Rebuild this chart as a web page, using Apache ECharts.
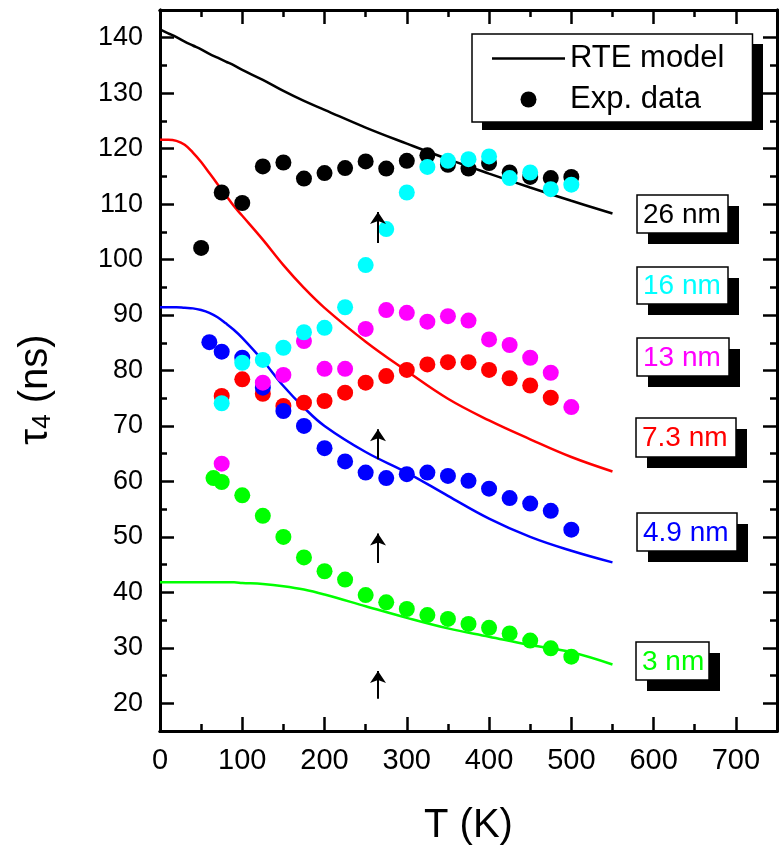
<!DOCTYPE html>
<html><head><meta charset="utf-8">
<script src="https://cdn.jsdelivr.net/npm/echarts@6/dist/echarts.min.js"></script>
<style>html,body{margin:0;padding:0;background:#fff}#c{width:782px;height:851px}</style>
</head><body><div id="c"></div>
<script>
const FONT = '"Liberation Sans", Arial, Helvetica, sans-serif';

// tick values
const xTicksMajor = [0, 100, 200, 300, 400, 500, 600, 700];
const xTicksMinor = [50, 150, 250, 350, 450, 550, 650];
const yTicksMajor = [20, 30, 40, 50, 60, 70, 80, 90, 100, 110, 120, 130, 140];
const yTicksMinor = [25, 35, 45, 55, 65, 75, 85, 95, 105, 115, 125, 135];

// RTE model curves
const modelT    = [0, 10, 20, 30, 40, 50, 60, 70, 80, 90, 100, 125, 150, 175, 200, 250, 300, 350, 400, 450, 500, 550];
const model26nm = [141.5, 140.8, 140.1, 139.3, 138.6, 137.9, 137.1, 136.4, 135.7, 135.0, 134.2, 132.4, 130.4, 128.6, 127.0, 123.8, 120.9, 118.1, 115.5, 113.0, 110.6, 108.3];
const model73nm = [121.6, 121.6, 121.4, 120.7, 119.3, 117.6, 115.6, 113.6, 111.6, 109.6, 107.9, 103.6, 99.0, 94.9, 91.3, 85.2, 79.9, 74.9, 71.0, 67.6, 64.4, 61.8];
const model49nm = [91.4, 91.4, 91.4, 91.3, 91.2, 90.9, 90.4, 89.6, 88.5, 87.3, 85.9, 81.8, 77.2, 73.3, 70.0, 65.3, 61.6, 57.4, 53.3, 50.0, 47.5, 45.4];
const model3nm  = [41.8, 41.8, 41.8, 41.8, 41.8, 41.8, 41.8, 41.8, 41.8, 41.8, 41.7, 41.5, 41.1, 40.5, 39.6, 37.5, 35.4, 33.5, 32.0, 30.5, 29.2, 27.0];

// Experimental data
const T26 = [50, 75, 100, 125, 150, 175, 200, 225, 250, 275, 300, 325, 350, 375, 400, 425, 450, 475, 500];
const tau26 = [102.1, 112.1, 110.2, 116.8, 117.5, 114.6, 115.6, 116.5, 117.7, 116.4, 117.8, 118.8, 117.1, 116.4, 117.4, 115.7, 114.9, 114.7, 114.9];
const T16 = [75, 100, 125, 150, 175, 200, 225, 250, 275, 300, 325, 350, 375, 400, 425, 450, 475, 500];
const tau16 = [74.1, 81.4, 81.9, 84.1, 86.9, 87.7, 91.4, 99.0, 105.5, 112.1, 116.7, 117.8, 118.1, 118.6, 114.7, 115.7, 112.7, 113.5];
const T13 = [75, 125, 150, 175, 200, 225, 250, 275, 300, 325, 350, 375, 400, 425, 450, 475, 500];
const tau13 = [63.2, 77.8, 79.2, 85.3, 80.3, 80.3, 87.5, 90.9, 90.4, 88.8, 89.8, 89.0, 85.6, 84.6, 82.3, 79.6, 73.4];
const T73 = [75, 100, 125, 150, 175, 200, 225, 250, 275, 300, 325, 350, 375, 400, 425, 450, 475];
const tau73 = [75.4, 78.4, 75.8, 73.6, 74.2, 74.5, 76.0, 77.8, 79.0, 80.1, 81.1, 81.5, 81.5, 80.1, 78.6, 77.3, 75.1];
const T49 = [60, 75, 100, 125, 150, 175, 200, 225, 250, 275, 300, 325, 350, 375, 400, 425, 450, 475, 500];
const tau49 = [85.1, 83.4, 82.3, 76.9, 72.7, 70.0, 66.0, 63.6, 61.6, 60.6, 61.3, 61.6, 61.0, 60.1, 58.7, 57.0, 56.0, 54.7, 51.3];
const T3 = [65, 75, 100, 125, 150, 175, 200, 225, 250, 275, 300, 325, 350, 375, 400, 425, 450, 475, 500];
const tau3 = [60.6, 59.9, 57.5, 53.8, 50.0, 46.3, 43.8, 42.3, 39.5, 38.2, 37.0, 35.9, 35.2, 34.3, 33.6, 32.6, 31.3, 29.9, 28.4];

// arrows (T, from, to)
const arrowT = 265;
const arrowFrom = [103.0, 64.0, 45.3, 20.8];
const arrowTo   = [108.6, 69.4, 50.6, 25.8];

// size labels
const sizeLabels = ['26 nm', '16 nm', '13 nm', '7.3 nm', '4.9 nm', '3 nm'];
const sizeColors = ['#000000', '#00FFFF', '#FF00FF', '#FF0000', '#0000FF', '#00FF00'];

const zip = (a, b) => a.map((v, i) => [v, b[i]]);

const chart = echarts.init(document.getElementById('c'), null, {renderer: 'canvas'});

function xAxisDef(position, ticks, len, showLabel, withName) {
  const ax = {
    type: 'value', min: 0, max: 750, position: position,
    axisLine: {show: true, onZero: false, lineStyle: {color: '#000', width: 3}},
    axisTick: {show: true, inside: true, length: len, customValues: ticks, lineStyle: {color: '#000', width: 2.5}},
    axisLabel: {show: showLabel, customValues: ticks, fontSize: 29, color: '#000', fontFamily: FONT, margin: 15},
    splitLine: {show: false}
  };
  if (withName) {
    ax.name = 'T (K)';
    ax.nameLocation = 'middle';
    ax.nameGap = 75;
    ax.nameTextStyle = {fontSize: 40, color: '#000', fontFamily: FONT};
  }
  return ax;
}
function yAxisDef(position, ticks, len, showLabel, withName) {
  const ax = {
    type: 'value', min: 15, max: 145, position: position,
    axisLine: {show: true, onZero: false, lineStyle: {color: '#000', width: 3}},
    axisTick: {show: true, inside: true, length: len, customValues: ticks, lineStyle: {color: '#000', width: 2.5}},
    axisLabel: {show: showLabel, customValues: ticks, fontSize: 27, color: '#000', fontFamily: FONT, margin: 17},
    splitLine: {show: false}
  };
  if (withName) {
    ax.name = '{a|τ}{b|4}{a| (ns)}';
    ax.nameLocation = 'middle';
    ax.nameRotate = 90;
    ax.nameGap = 104;
    ax.nameTextStyle = {
      fontSize: 40, color: '#000', fontFamily: FONT, padding: [0, 38, 0, 0],
      rich: {
        a: {fontSize: 40, fontFamily: FONT, color: '#000'},
        b: {fontSize: 26, fontFamily: FONT, color: '#000', verticalAlign: 'bottom'}
      }
    };
  }
  return ax;
}

const series = [];
function addModel(name, vals, color) {
  series.push({
    type: 'line', name: name, data: zip(modelT, vals), xAxisIndex: 0, yAxisIndex: 0,
    symbol: 'none', showSymbol: false, smooth: 0.4, silent: true,
    lineStyle: {color: color, width: 2.5}, itemStyle: {color: color}, z: 2
  });
}
addModel('RTE model', model26nm, '#000000');
addModel('RTE 7.3 nm', model73nm, '#FF0000');
addModel('RTE 4.9 nm', model49nm, '#0000FF');
addModel('RTE 3 nm', model3nm, '#00FF00');

function addData(name, T, tau, color) {
  series.push({
    type: 'scatter', name: name, data: zip(T, tau), xAxisIndex: 0, yAxisIndex: 0,
    symbol: 'circle', symbolSize: 16, silent: true,
    itemStyle: {color: color, opacity: 1}, z: 3
  });
}
addData('3 nm', T3, tau3, '#00FF00');
addData('7.3 nm', T73, tau73, '#FF0000');
addData('4.9 nm', T49, tau49, '#0000FF');
addData('13 nm', T13, tau13, '#FF00FF');
addData('Exp. data', T26, tau26, '#000000');
addData('16 nm', T16, tau16, '#00FFFF');

series.push({
  type: 'lines', name: 'arrows', coordinateSystem: 'cartesian2d', xAxisIndex: 0, yAxisIndex: 0,
  symbol: ['none', 'arrow'], symbolSize: 12, silent: true, z: 4,
  lineStyle: {color: '#000', width: 2, opacity: 1},
  data: arrowFrom.map((f, i) => ({coords: [[arrowT, f], [arrowT, arrowTo[i]]]}))
});

// label boxes (layout in pixels)
const boxGeom = [
  [637, 195, 91, 38], [637, 267, 91, 37], [637, 338, 92, 38],
  [636, 418, 100, 39], [637, 513, 100, 38], [636, 642, 73, 38]
];
const graphics = [];
// legend shadow
graphics.push({type: 'rect', shape: {x: 482, y: 44, width: 281, height: 86}, style: {fill: '#000'}, z: 1, silent: true});
sizeLabels.forEach((t, i) => {
  const g = boxGeom[i];
  graphics.push({type: 'rect', shape: {x: g[0] + 11, y: g[1] + 11, width: g[2], height: g[3]}, style: {fill: '#000'}, z: 10, silent: true});
  graphics.push({type: 'rect', shape: {x: g[0], y: g[1], width: g[2], height: g[3]}, style: {fill: '#fff', stroke: '#000', lineWidth: 1.5}, z: 11, silent: true});
  graphics.push({type: 'text', x: g[0] + 6, y: g[1] + g[3] / 2 + 1, style: {text: t, fill: sizeColors[i], fontSize: 28, fontFamily: FONT, align: 'left', verticalAlign: 'middle'}, z: 12, silent: true});
});

chart.setOption({
  backgroundColor: '#fff',
  animation: false,
  grid: {left: 160, right: 5, top: 10, bottom: 119.5, containLabel: false},
  xAxis: [
    xAxisDef('bottom', xTicksMajor, 14, true, true),
    xAxisDef('bottom', xTicksMinor, 7, false, false),
    xAxisDef('top', xTicksMajor, 14, false, false),
    xAxisDef('top', xTicksMinor, 7, false, false)
  ],
  yAxis: [
    yAxisDef('left', yTicksMajor, 14, true, true),
    yAxisDef('left', yTicksMinor, 7, false, false),
    yAxisDef('right', yTicksMajor, 14, false, false),
    yAxisDef('right', yTicksMinor, 7, false, false)
  ],
  legend: {
    show: true, orient: 'vertical', left: 472, top: 34,
    data: [
      {name: 'RTE model', icon: 'path://M0,0H73V2.5H0Z'},
      {name: 'Exp. data', icon: 'circle'}
    ],
    itemWidth: 73, itemHeight: 16, itemGap: 10, selectedMode: false, symbolKeepAspect: true,
    padding: [9, 28, 7, 20], backgroundColor: '#fff', borderColor: '#000', borderWidth: 1.5, borderRadius: 0,
    textStyle: {fontSize: 31, lineHeight: 30, color: '#000', fontFamily: FONT}
  },
  graphic: graphics,
  series: series
});
</script>
</body></html>
